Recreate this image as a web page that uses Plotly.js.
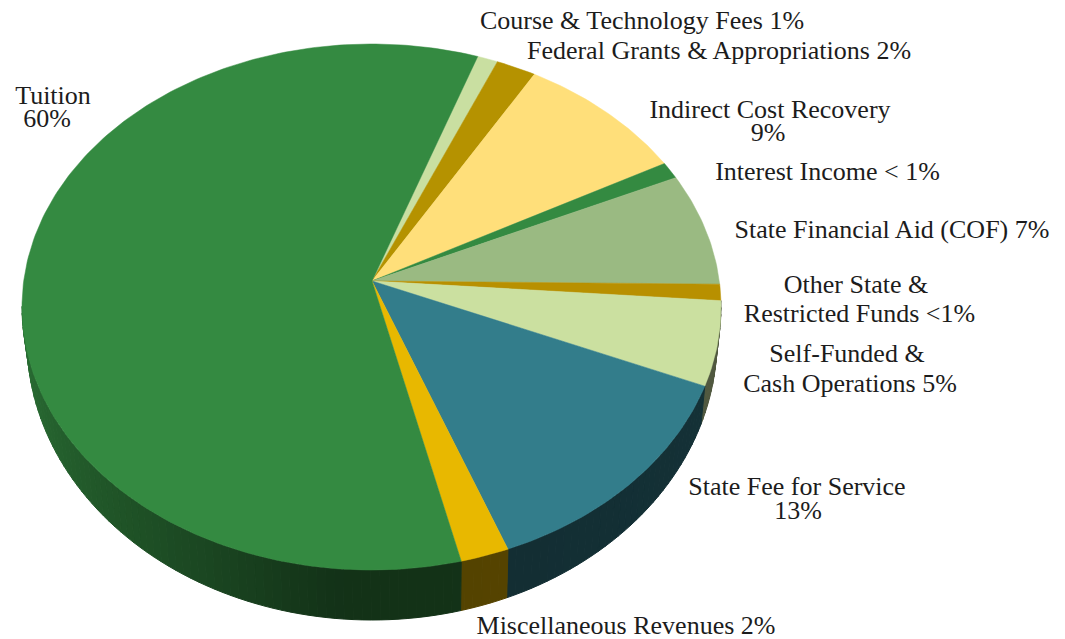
<!DOCTYPE html>
<html>
<head>
<meta charset="utf-8">
<script src="https://cdn.plot.ly/plotly-3.0.1.min.js"></script>
<style>html,body{margin:0;padding:0;background:#fff;overflow:hidden}#chart{width:1065px;height:639px}</style>
</head>
<body>
<div id="chart"></div>
<script>
// Data: categories and the shares as drawn in the picture, clockwise from the top
var categories = ["Course & Technology Fees","Federal Grants & Appropriations","Indirect Cost Recovery","Interest Income","State Financial Aid (COF)","Other State & Restricted Funds","Self-Funded & Cash Operations","State Fee for Service","Miscellaneous Revenues","Tuition"];
var shares = [0.95,1.85,8.1,1.0,6.8,1.0,5.25,13.75,2.25,59.05];
var sliceColors = ["#c9dfa1","#b59200","#ffdf7a","#348a41","#9aba82","#b89000","#cbe0a0","#337d8b","#e8b800","#348a41"];

// Label lines
var labelLines = ["Course & Technology Fees 1%","Federal Grants & Appropriations 2%","Indirect Cost Recovery","9%","Interest Income < 1%","State Financial Aid (COF) 7%","Other State &","Restricted Funds <1%","Self-Funded &","Cash Operations 5%","State Fee for Service","13%","Miscellaneous Revenues 2%","Tuition","60%"];
var labelX = [642,719,770,768,827.5,892,856,859.5,847,850,797,798,626,53,47];
var labelY = [22,52,111,134,173,231,286,315,355,385,488,512,627,97,120];

// Perspective geometry of the tilted pie (page pixels)
var startAngle = 72.3;
var apex = {x:372,y:281};
var rim = {x:371.5,y:307,a:349.5,b:263};
var base = {x:372,y:340,a:345,b:280};
var RAD = Math.PI/180;

function onEllipse(e,t){return [e.x+e.a*Math.cos(t*RAD), e.y-e.b*Math.sin(t*RAD)];}
function hex2rgb(h){return [parseInt(h.substr(1,2),16),parseInt(h.substr(3,2),16),parseInt(h.substr(5,2),16)];}
// wall shading by angle: lighter toward the far left, dark from the front round to the right
var shadeT = [-180,-160,-140,-120,-105,-95,-80,0];
var shadeF = [0.80,0.72,0.62,0.52,0.42,0.36,0.36,0.40];
function shade(t){
  while(t>0)t-=360; while(t<-180)t+=360;
  for(var i=0;i<shadeT.length-1;i++){
    if(t>=shadeT[i]&&t<=shadeT[i+1]){
      var u=(t-shadeT[i])/(shadeT[i+1]-shadeT[i]);
      return shadeF[i]+u*(shadeF[i+1]-shadeF[i]);
    }
  }
  return 0.4;
}

var total = shares.reduce(function(a,b){return a+b;},0);
var wedges = [], angle = startAngle;
shares.forEach(function(v,i){
  var sweep = v/total*360;
  wedges.push({from:angle,to:angle-sweep,color:sliceColors[i],name:categories[i]});
  angle -= sweep;
});

var traces = [];
// Side walls, behind the top face
wedges.forEach(function(w){
  var step = 1.5, t = w.from;
  while(t > w.to + 1e-6){
    var next = Math.max(t-step, w.to);
    // only the lower half of the disc has a visible wall
    var lo = ((t%360)+360)%360, hi = ((next%360)+360)%360;
    if(lo>=180 || lo===0 || hi>=180){
      var f = shade((t+next)/2), c = hex2rgb(w.color);
      var col = "rgb("+c.map(function(n){return Math.round(n*f);}).join(",")+")";
      var a=onEllipse(rim,t),b=onEllipse(rim,next),d=onEllipse(base,next),e=onEllipse(base,t);
      traces.push({type:"scatter",mode:"lines",x:[a[0],b[0],d[0],e[0],a[0]],y:[a[1],b[1],d[1],e[1],a[1]],
        fill:"toself",fillcolor:col,line:{color:col,width:1},hoverinfo:"skip",showlegend:false});
    }
    t = next;
  }
});
// Top face
wedges.forEach(function(w){
  var xs=[apex.x], ys=[apex.y];
  var n = Math.max(2,Math.ceil((w.from-w.to)/1));
  for(var k=0;k<=n;k++){
    var p = onEllipse(rim, w.from+(w.to-w.from)*k/n);
    xs.push(p[0]); ys.push(p[1]);
  }
  xs.push(apex.x); ys.push(apex.y);
  traces.push({type:"scatter",mode:"lines",x:xs,y:ys,fill:"toself",fillcolor:w.color,
    line:{color:w.color,width:0.5},name:w.name,hoverinfo:"name",showlegend:false});
});
// Labels
traces.push({type:"scatter",mode:"text",x:labelX,y:labelY,text:labelLines,textposition:"middle center",
  textfont:{family:"'Liberation Serif', serif",size:26,color:"#1c1c1c"},hoverinfo:"skip",showlegend:false});

var hidden = {visible:false,fixedrange:true};
Plotly.newPlot("chart",traces,{
  width:1065,height:639,margin:{l:0,r:0,t:0,b:0},
  paper_bgcolor:"#fff",plot_bgcolor:"#fff",
  xaxis:Object.assign({range:[0,1065]},hidden),
  yaxis:Object.assign({range:[639,0]},hidden),
  hovermode:"closest",showlegend:false
},{displayModeBar:false,staticPlot:false});
</script>
</body>
</html>
